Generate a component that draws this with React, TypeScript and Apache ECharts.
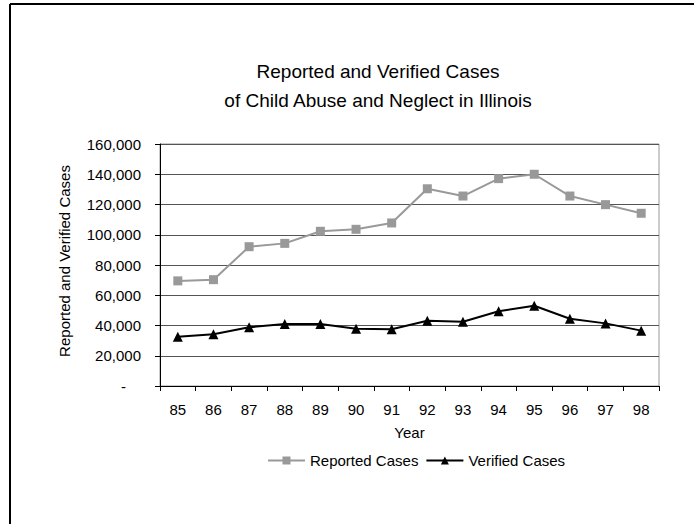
import React, { useEffect, useRef } from "react";
import * as echarts from "echarts";

const years = ["85", "86", "87", "88", "89", "90", "91", "92", "93", "94", "95", "96", "97", "98"];
const reportedCases = [69500, 70300, 92100, 94300, 102300, 103600, 107800, 130400, 125600, 137100, 140000, 125600, 119900, 114200];
const verifiedCases = [32600, 34200, 38800, 41000, 41000, 37900, 37500, 43200, 42500, 49400, 53100, 44500, 41400, 36600];
const titleLines = ["Reported and Verified Cases", "of Child Abuse and Neglect in Illinois"];

const FONT = "'Liberation Sans', Arial, sans-serif";

export default function App() {
  const ref = useRef<HTMLDivElement>(null);
  useEffect(() => {
    if (!ref.current) return;
    const chart = echarts.init(ref.current, undefined, { renderer: "svg" });
    chart.setOption({
      animation: false,
      backgroundColor: "#ffffff",
      textStyle: { fontFamily: FONT, color: "#000" },
      title: {
        text: titleLines.join("\n"),
        left: 373,
        top: 52,
        textAlign: "center",
        textStyle: { fontFamily: FONT, fontSize: 19, fontWeight: "normal", color: "#000", lineHeight: 29 },
      },
      legend: {
        left: 262,
        top: 448,
        itemWidth: 37,
        itemHeight: 10,
        itemGap: 7,
        textStyle: { fontFamily: FONT, fontSize: 15, color: "#000" },
        data: ["Reported Cases", "Verified Cases"],
      },
      grid: {
        left: 160,
        top: 144,
        width: 499,
        height: 242,
        show: true,
        borderColor: "#999",
        borderWidth: 1,
        backgroundColor: "transparent",
      },
      xAxis: {
        type: "category",
        data: years,
        boundaryGap: true,
        name: "Year",
        nameLocation: "middle",
        nameGap: 39,
        nameTextStyle: { fontFamily: FONT, fontSize: 15, color: "#000" },
        axisLine: { lineStyle: { color: "#000", width: 1 } },
        axisTick: { show: true, alignWithLabel: false, length: 5, lineStyle: { color: "#000" } },
        axisLabel: { fontFamily: FONT, fontSize: 15, color: "#000", margin: 16 },
        splitLine: { show: false },
      },
      yAxis: {
        type: "value",
        min: 0,
        max: 160000,
        interval: 20000,
        name: "Reported and Verified Cases",
        nameLocation: "middle",
        nameGap: 88,
        nameRotate: 90,
        nameTextStyle: { fontFamily: FONT, fontSize: 15, color: "#000", padding: [0, 0, 0, 8] },
        axisLine: { show: true, lineStyle: { color: "#000", width: 1 } },
        axisTick: { show: true, length: 5, lineStyle: { color: "#000" } },
        axisLabel: {
          fontFamily: FONT,
          fontSize: 15,
          color: "#000",
          margin: 19,
          formatter: (v: number) => (v === 0 ? "{d|-}" : v.toLocaleString("en-US")),
          rich: { d: { fontFamily: FONT, fontSize: 15, color: "#000", padding: [0, 15, 0, 0] } },
        },
        splitLine: { show: true, lineStyle: { color: "#555", width: 1 } },
      },
      series: [
        {
          name: "Reported Cases",
          type: "line",
          data: reportedCases,
          symbol: "rect",
          symbolSize: 9,
          lineStyle: { color: "#999999", width: 2 },
          itemStyle: { color: "#999999" },
        },
        {
          name: "Verified Cases",
          type: "line",
          data: verifiedCases,
          symbol: "triangle",
          symbolSize: 10,
          lineStyle: { color: "#000000", width: 2 },
          itemStyle: { color: "#000000" },
        },
      ],
      graphic: [
        { type: "line", shape: { x1: 10, y1: 4, x2: 694, y2: 4 }, style: { stroke: "#000", lineWidth: 2 } },
        { type: "line", shape: { x1: 10, y1: 4, x2: 10, y2: 524 }, style: { stroke: "#000", lineWidth: 2 } },
      ],
    });
    return () => chart.dispose();
  }, []);
  return <div ref={ref} style={{ position: "absolute", left: 0, top: 0, width: 694, height: 524 }} />;
}
